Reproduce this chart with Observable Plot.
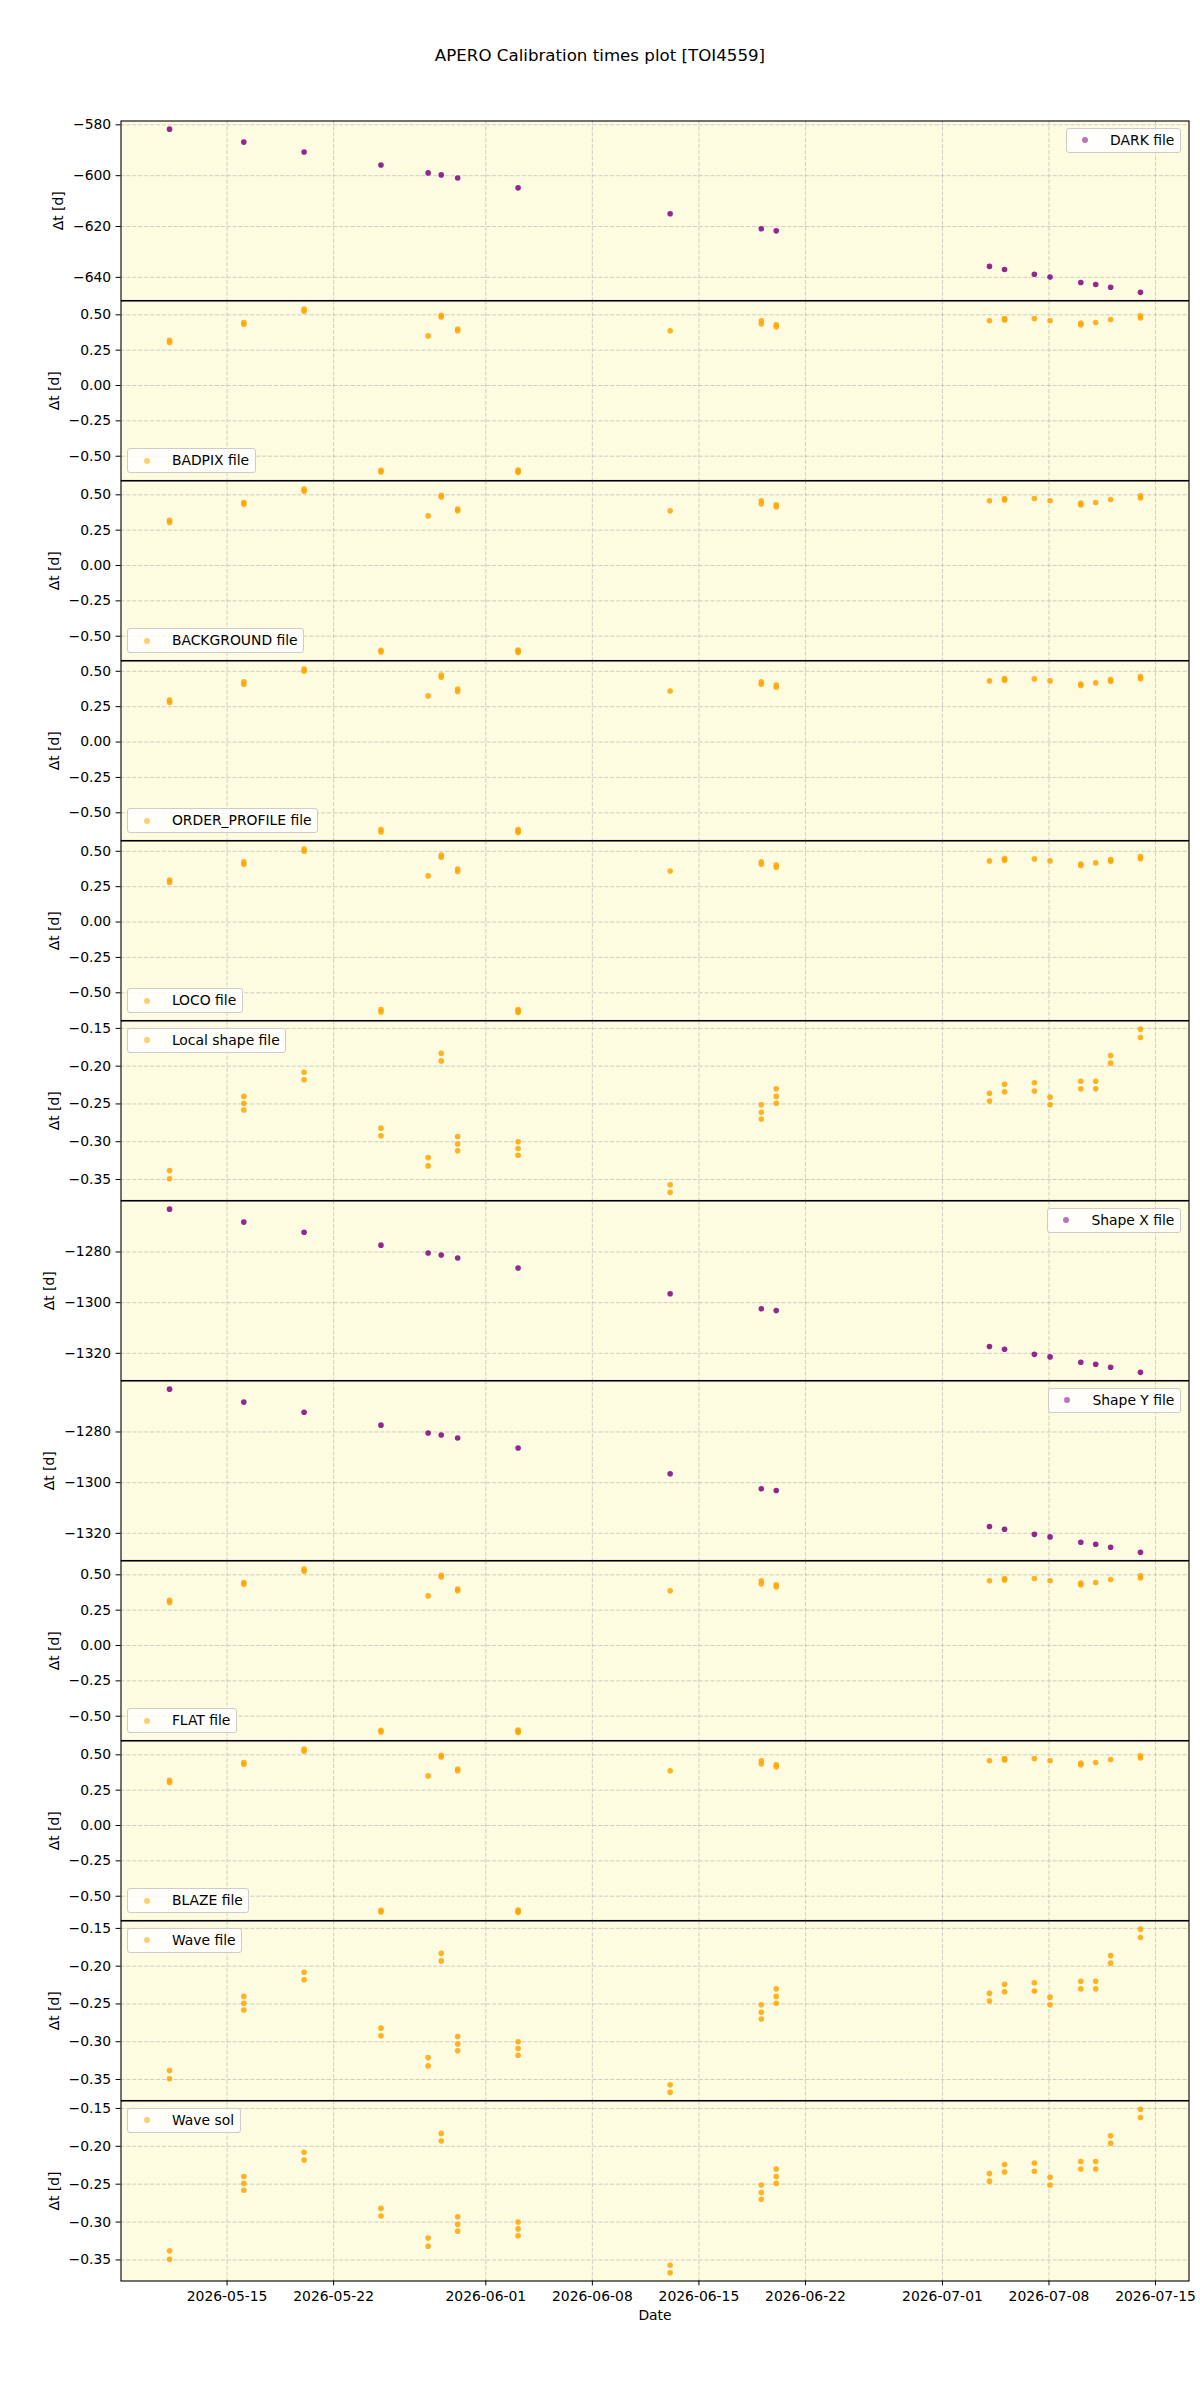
<!DOCTYPE html>
<html><head><meta charset="utf-8">
<script src="https://cdn.jsdelivr.net/npm/d3@7"></script>
<script src="https://cdn.jsdelivr.net/npm/@observablehq/plot@0.6"></script>
<style>
body{margin:0;background:#fff;font-family:"DejaVu Sans",sans-serif;}
#fig{position:relative;width:1200px;height:2400px;background:#fff;overflow:hidden;}
#title{position:absolute;left:0;width:1200px;top:45px;text-align:center;font-size:16.67px;line-height:22px;color:#000;}
.panel{position:absolute;left:0;width:1200px;}
.panel svg{overflow:visible;}
.legend{position:absolute;height:25px;box-sizing:border-box;border:1px solid #cccccc;border-radius:3px;background:rgba(255,255,255,0.8);display:flex;align-items:center;font-size:13.9px;color:#000;padding-right:5.6px;white-space:nowrap;}
.legend .handle{position:relative;display:inline-block;width:33.4px;height:23px;}
.legend .mk{position:absolute;left:15.5px;top:8.5px;width:6px;height:6px;border-radius:50%;}
.legend .txt{margin-left:10.1px;line-height:23px;}
</style></head>
<body>
<div id="fig"><div id="title">APERO Calibration times plot [TOI4559]</div></div>
<script>
// ---- data ----
const nightDates = ["2026-05-11T05:17Z","2026-05-16T02:24Z","2026-05-20T01:26Z","2026-05-25T02:38Z","2026-05-28T05:02Z","2026-05-29T01:41Z","2026-05-30T03:36Z","2026-06-03T02:53Z","2026-06-13T02:38Z","2026-06-19T02:24Z","2026-06-20T01:55Z","2026-07-04T02:10Z","2026-07-05T01:55Z","2026-07-07T00:58Z","2026-07-08T01:41Z","2026-07-10T02:10Z","2026-07-11T01:41Z","2026-07-12T01:12Z","2026-07-14T00:14Z"];

const darkDt = [-581.7,-586.8,-590.7,-595.8,-598.9,-599.7,-600.9,-604.8,-615.0,-620.9,-621.7,-635.7,-636.9,-638.8,-639.9,-642.0,-642.8,-643.9,-645.9];

const badpixDt = [[0.320,0.305],[0.446,0.434],[0.540,0.525],[-0.600,-0.612],[0.351],[0.497,0.485],[0.399,0.387],[-0.598,-0.606,-0.614],[0.387],[0.458,0.436],[0.430,0.415],[0.458],[0.474,0.464],[0.474],[0.458],[0.441,0.428],[0.446],[0.467],[0.493,0.478]];
const backgroundDt = badpixDt;
const flatDt = badpixDt;
const blazeDt = badpixDt;

const orderProfileDt = [[0.296,0.280],[0.425,0.408],[0.515,0.500],[-0.618,-0.636],[0.326],[0.474,0.458],[0.374,0.357],[-0.618,-0.628,-0.638],[0.361],[0.425,0.408],[0.403,0.387],[0.432],[0.448,0.436],[0.446],[0.432],[0.410,0.400],[0.418],[0.441,0.429],[0.462,0.448]];
const locoDt = orderProfileDt;

const localShapeDt = [[-0.338,-0.349],[-0.240,-0.249,-0.258],[-0.208,-0.218],[-0.282,-0.292],[-0.321,-0.332],[-0.183,-0.193],[-0.293,-0.303,-0.312],[-0.300,-0.309,-0.318],[-0.357,-0.367],[-0.251,-0.261,-0.270],[-0.230,-0.240,-0.249],[-0.236,-0.246],[-0.224,-0.234],[-0.222,-0.233],[-0.241,-0.251],[-0.220,-0.230],[-0.220,-0.230],[-0.186,-0.196],[-0.151,-0.162]];
const waveFileDt = localShapeDt;
const waveSolDt = localShapeDt;

const shapeXDt = [-1263.1,-1268.2,-1272.2,-1277.3,-1280.4,-1281.2,-1282.4,-1286.3,-1296.5,-1302.4,-1303.1,-1317.3,-1318.4,-1320.4,-1321.4,-1323.5,-1324.3,-1325.5,-1327.5];
const shapeYDt = shapeXDt;

const darkTicks = [-640,-620,-600,-580];
const fracTicks = [-0.5,-0.25,0,0.25,0.5];
const fineTicks = [-0.35,-0.30,-0.25,-0.20,-0.15];
const shapeTicks = [-1320,-1300,-1280];
const xTickDates = ["2026-05-15","2026-05-22","2026-06-01","2026-06-08","2026-06-15","2026-06-22","2026-07-01","2026-07-08","2026-07-15"];

// ---- styling ----
const PURPLE = "#800080", ORANGE = "#FFA500", BG = "#fdfbe0";
const FONT = "DejaVu Sans", FS = 13.9;

const panels = [
  {label:"DARK file", vals:darkDt, ticks:darkTicks, fmt:"d", color:PURPLE, loc:"ur"},
  {label:"BADPIX file", vals:badpixDt, ticks:fracTicks, fmt:".2f", color:ORANGE, loc:"ll"},
  {label:"BACKGROUND file", vals:backgroundDt, ticks:fracTicks, fmt:".2f", color:ORANGE, loc:"ll"},
  {label:"ORDER_PROFILE file", vals:orderProfileDt, ticks:fracTicks, fmt:".2f", color:ORANGE, loc:"ll"},
  {label:"LOCO file", vals:locoDt, ticks:fracTicks, fmt:".2f", color:ORANGE, loc:"ll"},
  {label:"Local shape file", vals:localShapeDt, ticks:fineTicks, fmt:".2f", color:ORANGE, loc:"ul"},
  {label:"Shape X file", vals:shapeXDt, ticks:shapeTicks, fmt:"d", color:PURPLE, loc:"ur"},
  {label:"Shape Y file", vals:shapeYDt, ticks:shapeTicks, fmt:"d", color:PURPLE, loc:"ur"},
  {label:"FLAT file", vals:flatDt, ticks:fracTicks, fmt:".2f", color:ORANGE, loc:"ll"},
  {label:"BLAZE file", vals:blazeDt, ticks:fracTicks, fmt:".2f", color:ORANGE, loc:"ll"},
  {label:"Wave file", vals:waveFileDt, ticks:fineTicks, fmt:".2f", color:ORANGE, loc:"ul"},
  {label:"Wave sol", vals:waveSolDt, ticks:fineTicks, fmt:".2f", color:ORANGE, loc:"ul"}
];

const dates = nightDates.map(s => new Date(s));
const xTicks = xTickDates.map(s => new Date(s + "T00:00Z"));
const [x0, x1] = d3.extent(dates);
const xr = x1 - x0;
const xDomain = [new Date(+x0 - 0.05*xr), new Date(+x1 + 0.05*xr)];
const xTicksIn = xTicks.filter(t => t >= xDomain[0] && t <= xDomain[1]);

const ctx = document.createElement("canvas").getContext("2d");
ctx.font = `${FS}px "${FONT}"`;

const fig = document.getElementById("fig");
const TOP = 120, PH = 180, ML = 120.5, MR = 11.5, BOTTOM_EXTRA = 60;
const gridStyle = {stroke:"#b0b0b0", strokeOpacity:0.6, strokeWidth:1, strokeDasharray:"4.1,1.8"};

panels.forEach((p, i) => {
  const last = i === panels.length - 1;
  const rows = [];
  dates.forEach((d, k) => [].concat(p.vals[k]).forEach(v => rows.push({date:d, dt:v})));
  const [lo, hi] = d3.extent(rows, r => r.dt);
  const pad = 0.05*(hi - lo);
  const fmt = d3.format(p.fmt);
  const maxW = d3.max(p.ticks, t => ctx.measureText(fmt(t)).width);
  const labelDx = -(4.9 + 4.9 + maxW + 5.6 + 8.1) - 0.5;

  const marks = [
    Plot.frame({fill:BG, stroke:"none"}),
    Plot.gridX(xTicksIn, gridStyle),
    Plot.gridY(p.ticks, gridStyle),
    Plot.dot(rows, {x:"date", y:"dt", r:2.8, fill:p.color, fillOpacity:0.85}),
    Plot.axisY(p.ticks, {tickSize:4.9, tickPadding:4.9, tickFormat:fmt, label:null}),
    Plot.text(["Δt [d]"], {frameAnchor:"left", dx:labelDx, rotate:-90, textAnchor:"middle", lineAnchor:"middle", fontSize:FS}),
    Plot.frame({stroke:"black", strokeWidth:1.1})
  ];
  if (last) {
    marks.push(Plot.axisX(xTicksIn, {tickSize:4.9, tickPadding:4.9, tickFormat:d3.utcFormat("%Y-%m-%d"), label:null}));
    marks.push(Plot.text(["Date"], {frameAnchor:"bottom", dy:35, textAnchor:"middle", lineAnchor:"middle", fontSize:FS}));
  }
  const h = last ? PH + BOTTOM_EXTRA : PH;
  const chart = Plot.plot({
    width:1200, height:h + 0.5,
    marginLeft:ML, marginRight:MR, marginTop:0.5, marginBottom: last ? BOTTOM_EXTRA : 0.5,
    x:{type:"utc", domain:xDomain, axis: last ? undefined : null},
    y:{domain:[lo - pad, hi + pad], axis:null},
    style:{fontFamily:FONT, fontSize:FS + "px", color:"black", background:"transparent", overflow:"visible"},
    marks
  });
  const div = document.createElement("div");
  div.className = "panel";
  div.style.top = (TOP + i*PH) + "px";
  div.style.height = h + "px";
  div.appendChild(chart);

  const lg = document.createElement("div");
  lg.className = "legend";
  lg.innerHTML = `<span class="handle"><span class="mk" style="background:${p.color};opacity:0.55"></span></span><span class="txt"></span>`;
  lg.querySelector(".txt").textContent = p.label;
  if (p.loc === "ur") { lg.style.right = "19px"; lg.style.top = "7.5px"; }
  else if (p.loc === "ul") { lg.style.left = "127.4px"; lg.style.top = "7.7px"; }
  else { lg.style.left = "127.4px"; lg.style.top = (PH - 6.7 - 25) + "px"; }
  div.appendChild(lg);
  fig.appendChild(div);
});
</script>
</body></html>
